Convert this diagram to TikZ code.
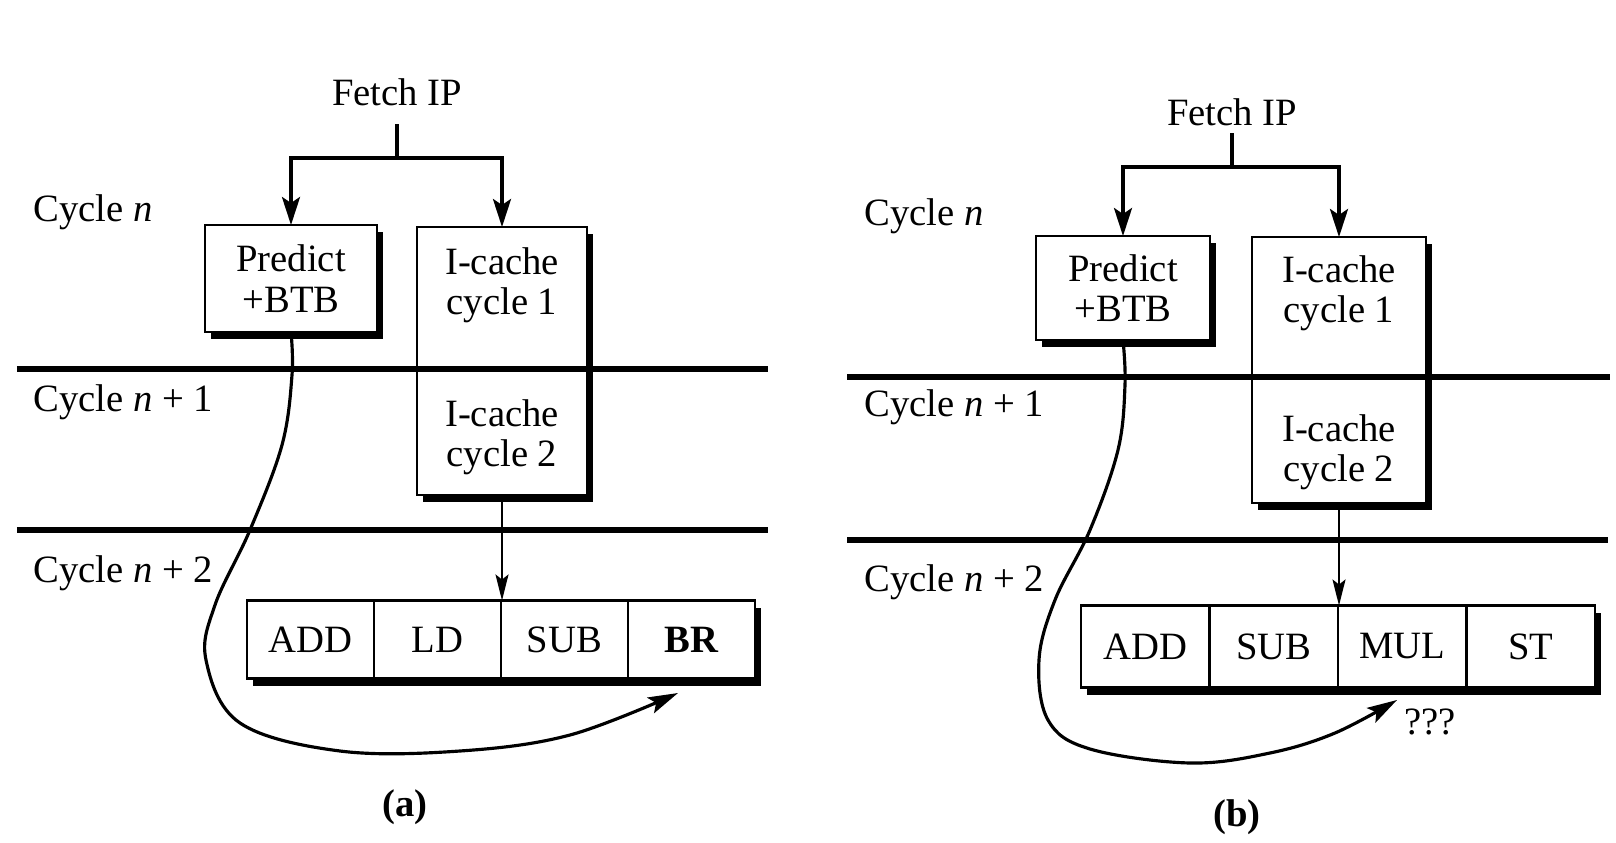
\documentclass[tikz,border=0pt]{standalone}
\usepackage{fontspec}
\setmainfont{Liberation Serif}
\usetikzlibrary{arrows.meta,positioning,shadows}

\begin{document}
\begin{tikzpicture}[>=Stealth,font=\fontsize{11}{11.5}\selectfont,
    box/.style={draw,line width=0.8pt,fill=white,outer sep=0pt,inner sep=0pt,align=center,
      drop shadow={shadow xshift=0.06cm,shadow yshift=-0.07cm,opacity=1,fill=black}},
    cell/.style={box,minimum width=1.27cm,minimum height=0.78cm},
    cellb/.style={cell,minimum width=1.285cm,minimum height=0.82cm},
    cycleline/.style={line width=1.7pt},
    fetch/.style={line width=1pt,-{Stealth[length=2.8mm,width=1.8mm,inset=0.6mm]}},
    feed/.style={line width=0.6pt,-{Stealth[length=2.6mm,width=1.3mm,inset=0.5mm]}},
    jump/.style={line width=0.9pt,-{Stealth[length=3mm,width=1.7mm,inset=0.6mm]}},
    cyclelbl/.style={anchor=west,inner sep=0pt}]
  \useasboundingbox (0,0) rectangle (16.16,-8.43);

  % (a) branch taken, BTB hit
  \node[inner sep=0pt] (fetchA) at (3.97,-0.92) {Fetch IP};
  \coordinate (forkA) at (3.97,-1.58);
  \node[box,minimum width=1.72cm,minimum height=1.07cm] (predA) at (2.91,-2.785) {Predict\\+BTB};
  \node[box,minimum width=1.70cm,minimum height=2.68cm] (icA) at (5.02,-3.61) {};
  \node[align=center] (ic1A) at (5.02,-2.85) {I-cache\\cycle 1};
  \node[align=center] (ic2A) at (5.02,-4.37) {I-cache\\cycle 2};
  \node[cell] (addA) at (3.105,-6.395) {ADD};
  \node[cell,right=0pt of addA] (ldA) {LD};
  \node[cell,right=0pt of ldA] (subA) {SUB};
  \node[cell,right=0pt of subA] (brA) {\bfseries BR};
  \coordinate (tipA) at (6.78,-6.93);

  \draw[cycleline] (0.17,-3.69) -- (7.68,-3.69);
  \draw[cycleline] (0.17,-5.30) -- (7.68,-5.30);
  \node[cyclelbl] (cnA) at (0.33,-2.12) {Cycle \textit{n}};
  \node[cyclelbl] (cn1A) at (0.33,-4.02) {Cycle \textit{n} + 1};
  \node[cyclelbl] (cn2A) at (0.33,-5.73) {Cycle \textit{n} + 2};

  \draw[line width=1pt] ([yshift=-1.8mm]fetchA.south) -- (forkA);
  \draw[fetch] (forkA) -| (predA.north);
  \draw[fetch] (forkA) -| (icA.north);
  \draw[feed] (icA.south) -- (icA.south |- ldA.north);
  \draw[jump] plot[smooth,tension=0.6] coordinates {(predA.south) (2.92,-3.75) (2.82,-4.45)
    (2.50,-5.30) (2.15,-6.05) (2.06,-6.60) (2.40,-7.23) (3.40,-7.51) (4.60,-7.51) (5.70,-7.35) (tipA)};
  \node (capA) at (4.05,-8.07) {\bfseries (a)};

  % (b) BTB miss
  \node[inner sep=0pt] (fetchB) at (12.32,-1.12) {Fetch IP};
  \coordinate (forkB) at (12.32,-1.67);
  \node[box,minimum width=1.74cm,minimum height=1.04cm] (predB) at (11.23,-2.88) {Predict\\+BTB};
  \node[box,minimum width=1.74cm,minimum height=2.66cm] (icB) at (13.39,-3.70) {};
  \node[align=center] (ic1B) at (13.39,-2.93) {I-cache\\cycle 1};
  \node[align=center] (ic2B) at (13.39,-4.52) {I-cache\\cycle 2};
  \node[cellb] (addB) at (11.4525,-6.465) {ADD};
  \node[cellb,right=0pt of addB] (subB) {SUB};
  \node[cellb,right=0pt of subB] (mulB) {MUL};
  \node[cellb,right=0pt of mulB] (stB) {ST};
  \coordinate (tipB) at (13.97,-7.00);

  \draw[cycleline] (8.47,-3.77) -- (16.10,-3.77);
  \draw[cycleline] (8.47,-5.40) -- (16.08,-5.40);
  \node[cyclelbl] (cnB) at (8.64,-2.16) {Cycle \textit{n}};
  \node[cyclelbl] (cn1B) at (8.64,-4.07) {Cycle \textit{n} + 1};
  \node[cyclelbl] (cn2B) at (8.64,-5.82) {Cycle \textit{n} + 2};

  \draw[line width=1pt] ([yshift=-0.7mm]fetchB.south) -- (forkB);
  \draw[fetch] (forkB) -| (predB.north);
  \draw[fetch] (forkB) -| (icB.north);
  \draw[feed] (icB.south) -- (icB.south |- mulB.north);
  \draw[jump] plot[smooth,tension=0.6] coordinates {(predB.south) (11.25,-3.85) (11.18,-4.50)
    (10.90,-5.30) (10.55,-6.00) (10.39,-6.60) (10.48,-7.20) (10.90,-7.49) (11.90,-7.63) (12.70,-7.53)
    (13.35,-7.33) (tipB)};
  \node (qB) at (14.30,-7.22) {???};
  \node (capB) at (12.37,-8.17) {\bfseries (b)};
\end{tikzpicture}
\end{document}
